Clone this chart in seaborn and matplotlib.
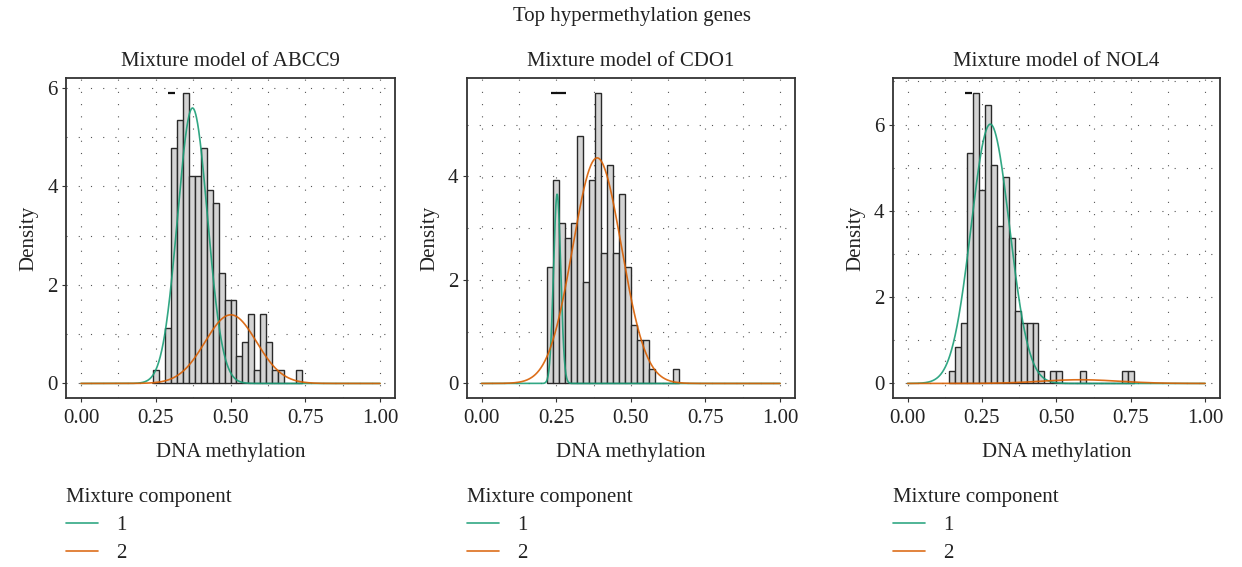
import numpy as np
import pandas as pd
import matplotlib
matplotlib.use("Agg")
import matplotlib.pyplot as plt
from matplotlib.ticker import MultipleLocator
import seaborn as sns

# ---------------- data ----------------
genes = ["ABCC9", "CDO1", "NOL4"]
binwidth = 0.02

abcc9_bin_start = 0.24
abcc9_counts = [1, 0, 4, 17, 19, 21, 15, 15, 17, 14, 13, 8, 6, 6, 2, 3, 5, 1, 5, 3,
                1, 1, 0, 0, 1]
cdo1_bin_start = 0.22
cdo1_counts = [8, 14, 11, 10, 11, 17, 7, 14, 20, 9, 15, 9, 13, 8, 4, 3, 3, 1, 0, 0,
               0, 1]
nol4_bin_start = 0.14
nol4_counts = [1, 3, 5, 19, 24, 16, 23, 18, 13, 17, 12, 6, 5, 5, 5, 1, 0, 1, 1, 0,
               0, 0, 1, 0, 0, 0, 0, 0, 0, 1, 1]

# mixture component parameters: (mean, sd, weight)
abcc9_comp1 = (0.373, 0.050, 0.70)
abcc9_comp2 = (0.501, 0.086, 0.30)
cdo1_comp1 = (0.253, 0.012, 0.11)
cdo1_comp2 = (0.387, 0.0815, 0.89)
nol4_comp1 = (0.278, 0.0644, 0.97)
nol4_comp2 = (0.580, 0.130, 0.028)

# small black dash near the top of each panel: (x_start, x_end)
dash_spans = [(0.29, 0.315), (0.233, 0.282), (0.194, 0.218)]

component_labels = ["1", "2"]
comp_colors = ["#1b9e77", "#d95f02"]

suptitle = "Top hypermethylation genes"
xlabel = "DNA methylation"
ylabel = "Density"
legend_title = "Mixture component"

# ---------------- style ----------------
sns.set_theme(style="white")
plt.rcParams["font.family"] = ["Liberation Serif", "DejaVu Serif"]
FS = 15
plt.rcParams["font.size"] = FS
plt.rcParams["axes.unicode_minus"] = False

W, H = 1242, 567
fig = plt.figure(figsize=(W / 100, H / 100), dpi=100)

axes_px = [(66, 395), (466.7, 795), (892.7, 1220)]
top_px, bot_px = 78, 398

datasets = [
    (abcc9_bin_start, abcc9_counts, abcc9_comp1, abcc9_comp2),
    (cdo1_bin_start, cdo1_counts, cdo1_comp1, cdo1_comp2),
    (nol4_bin_start, nol4_counts, nol4_comp1, nol4_comp2),
]

xs = np.linspace(0, 1, 801)


def comp_density(x, params):
    mu, sd, lam = params
    return lam * np.exp(-0.5 * ((x - mu) / sd) ** 2) / (sd * np.sqrt(2 * np.pi))


grid_kw = dict(color="#555555", linewidth=0.8, linestyle=(0, (1, 10)))
TXT = "#222222"

for i, (gene, (start, counts, c1, c2)) in enumerate(zip(genes, datasets)):
    l, r = axes_px[i]
    ax = fig.add_axes([l / W, 1 - bot_px / H, (r - l) / W, (bot_px - top_px) / H])

    n = len(counts)
    lo = round(start, 4)
    hi = round(start + binwidth * n, 4)
    centers = lo + binwidth * (np.arange(n) + 0.5)
    df = pd.DataFrame({"x": centers, "w": np.asarray(counts, dtype=float)})
    sns.histplot(data=df, x="x", weights="w", binwidth=binwidth, binrange=(lo, hi),
                 stat="density", color="#d4d4d4", edgecolor="#2a2a2a",
                 linewidth=1.0, alpha=1.0, ax=ax, zorder=2)

    dens = np.array(counts) / (np.sum(counts) * binwidth)
    ymax = dens.max()

    for lab, params, col in zip(component_labels, [c1, c2], comp_colors):
        cdf = pd.DataFrame({"x": xs, "y": comp_density(xs, params)})
        sns.lineplot(data=cdf, x="x", y="y", color=col, linewidth=1.2,
                     alpha=0.9, ax=ax, label=lab, zorder=3)

    ds = dash_spans[i]
    ax.hlines(ymax, ds[0], ds[1], color="#111111", linewidth=1.6, zorder=4)

    ax.set_xlim(-0.05, 1.05)
    ax.set_ylim(-0.05 * ymax, 1.05 * ymax)
    ax.xaxis.set_major_locator(MultipleLocator(0.25))
    ax.xaxis.set_minor_locator(MultipleLocator(0.125))
    ax.yaxis.set_major_locator(MultipleLocator(2))
    ax.yaxis.set_minor_locator(MultipleLocator(1))
    ax.xaxis.set_major_formatter(plt.FuncFormatter(lambda v, p: f"{v:.2f}"))
    ax.yaxis.set_major_formatter(plt.FuncFormatter(lambda v, p: f"{v:.0f}"))

    ax.grid(True, which="both", axis="both", **grid_kw)
    ax.set_axisbelow(True)
    for sp in ax.spines.values():
        sp.set_visible(True)
        sp.set_color("#333333")
        sp.set_linewidth(1.3)

    ax.tick_params(axis="x", which="major", pad=5)
    ax.tick_params(axis="y", which="major", pad=3)
    ax.tick_params(axis="both", which="major", direction="out", length=3,
                   width=0.8, color="#333333", labelsize=FS, labelcolor=TXT,
                   bottom=True, left=True)
    ax.tick_params(axis="both", which="minor", length=0)

    ax.set_xlabel(xlabel, fontsize=FS, color=TXT, labelpad=11)
    ax.set_ylabel(ylabel, fontsize=FS, color=TXT, labelpad=6)
    ax.set_title(f"Mixture model of {gene}", fontsize=FS, color=TXT, pad=9)

    leg = ax.legend(title=legend_title, loc="upper left",
                    bbox_to_anchor=(0.0, -0.28), frameon=False, fontsize=FS,
                    title_fontsize=FS, borderpad=0, borderaxespad=0,
                    handlelength=1.55, handletextpad=0.85, labelspacing=0.42,
                    alignment="left")
    for t in leg.get_texts():
        t.set_color(TXT)
    leg.get_title().set_color(TXT)

fig.text(0.509, 1 - 16 / H, suptitle, ha="center", va="center", fontsize=FS,
         color=TXT)

fig.savefig("out.png", dpi=100, facecolor="white")
